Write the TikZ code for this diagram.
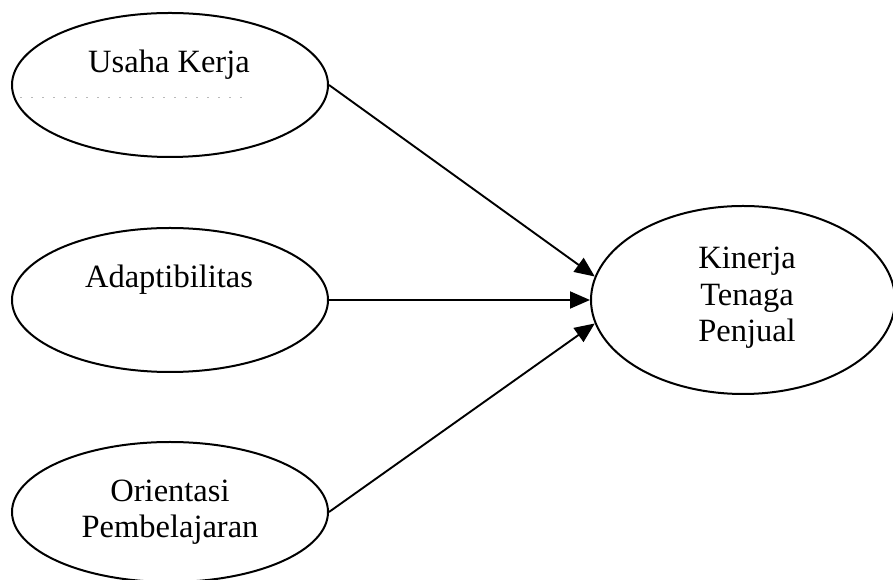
\documentclass[tikz,border=0pt]{standalone}
\usepackage{fontspec}
\setmainfont{Liberation Serif}
\usetikzlibrary{shapes.geometric,arrows.meta}
\begin{document}
\begin{tikzpicture}[x=1pt,y=1pt,
  ell/.style={draw, ellipse, line width=2pt, inner sep=0pt},
  lbl/.style={align=center, font=\fontsize{32.5}{36.5}\selectfont, inner sep=0pt},
  arr/.style={line width=1.9pt, -{Triangle[length=20pt,width=17pt]}},
  scan/.style={gray!55, line width=0.6pt, dash pattern=on 2pt off 9pt}]
\useasboundingbox (0,0) rectangle (893,580);
% ellipses
\node[ell, minimum width=316pt, minimum height=144pt] (u) at (170,495) {};
\node[ell, minimum width=316pt, minimum height=144pt] (a) at (170,280) {};
\node[ell, minimum width=316pt, minimum height=140pt] (o) at (170,68) {};
\node[ell, minimum width=304pt, minimum height=188pt] (k) at (743,280) {};
% labels
\node[lbl] (ut) at (169,515) {Usaha Kerja};
\node[lbl] (at) at (169,300) {Adaptibilitas};
\node[lbl] (ot) at (170,68) {Orientasi\\Pembelajaran};
\node[lbl] (kt) at (747,282) {Kinerja\\Tenaga\\Penjual};
% faint scan line inside the first ellipse
\draw[scan] (20,483) -- (245,483);
% connectors
\draw[arr] (u.east) -- (k.171);
\draw[arr] (a.east) -- (k.west);
\draw[arr] (o.east) -- (k.189);
\end{tikzpicture}
\end{document}
